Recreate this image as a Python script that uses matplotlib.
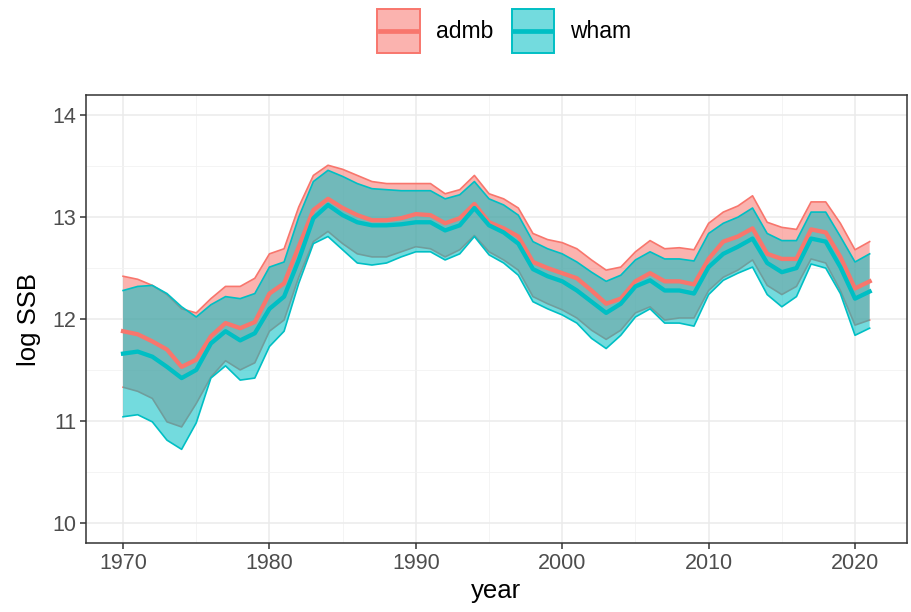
import numpy as np
import matplotlib
matplotlib.use("Agg")
import matplotlib.pyplot as plt
from matplotlib.patches import Rectangle
from matplotlib.lines import Line2D
from matplotlib.legend_handler import HandlerBase

plt.rcParams['font.family'] = ['Liberation Sans', 'DejaVu Sans']

years = np.arange(1970, 2022)

admb_est = [11.88, 11.85, 11.78, 11.70, 11.53, 11.60, 11.83, 11.96, 11.91, 11.97,
            12.25, 12.35, 12.71, 13.07, 13.18, 13.09, 13.02, 12.97, 12.97, 12.99,
            13.03, 13.02, 12.94, 12.99, 13.13, 12.95, 12.89, 12.81, 12.56, 12.50,
            12.45, 12.40, 12.28, 12.15, 12.20, 12.37, 12.45, 12.37, 12.37, 12.34,
            12.59, 12.76, 12.81, 12.89, 12.64, 12.59, 12.59, 12.88, 12.85, 12.61,
            12.30, 12.37]
admb_hi = [12.42, 12.39, 12.33, 12.24, 12.10, 12.06, 12.20, 12.32, 12.32, 12.40,
           12.64, 12.69, 13.10, 13.41, 13.51, 13.47, 13.41, 13.35, 13.33, 13.33,
           13.33, 13.33, 13.23, 13.27, 13.41, 13.23, 13.18, 13.09, 12.84, 12.78,
           12.75, 12.69, 12.58, 12.48, 12.51, 12.66, 12.77, 12.69, 12.70, 12.68,
           12.94, 13.05, 13.11, 13.21, 12.95, 12.90, 12.88, 13.15, 13.15, 12.94,
           12.68, 12.76]
admb_lo = [11.33, 11.29, 11.22, 10.99, 10.94, 11.17, 11.43, 11.59, 11.50, 11.57,
           11.88, 11.99, 12.41, 12.76, 12.86, 12.74, 12.64, 12.61, 12.61, 12.66,
           12.71, 12.69, 12.61, 12.68, 12.82, 12.66, 12.58, 12.48, 12.22, 12.15,
           12.09, 12.01, 11.89, 11.80, 11.89, 12.06, 12.12, 11.99, 12.01, 12.01,
           12.28, 12.41, 12.48, 12.58, 12.33, 12.24, 12.32, 12.59, 12.55, 12.28,
           11.94, 11.99]

wham_est = [11.66, 11.68, 11.63, 11.53, 11.42, 11.50, 11.76, 11.88, 11.79, 11.86,
            12.10, 12.22, 12.58, 12.99, 13.12, 13.02, 12.95, 12.92, 12.92, 12.93,
            12.95, 12.95, 12.87, 12.92, 13.09, 12.92, 12.85, 12.74, 12.49, 12.42,
            12.37, 12.28, 12.17, 12.06, 12.15, 12.32, 12.38, 12.28, 12.28, 12.25,
            12.51, 12.64, 12.71, 12.79, 12.55, 12.46, 12.50, 12.79, 12.76, 12.51,
            12.20, 12.27]
wham_hi = [12.28, 12.32, 12.33, 12.25, 12.12, 12.02, 12.14, 12.22, 12.20, 12.25,
           12.51, 12.56, 13.00, 13.35, 13.46, 13.40, 13.33, 13.28, 13.27, 13.26,
           13.26, 13.26, 13.18, 13.22, 13.35, 13.18, 13.12, 13.02, 12.76, 12.69,
           12.64, 12.56, 12.46, 12.37, 12.43, 12.58, 12.66, 12.59, 12.59, 12.57,
           12.84, 12.94, 13.00, 13.09, 12.84, 12.77, 12.77, 13.05, 13.05, 12.81,
           12.56, 12.64]
wham_lo = [11.04, 11.06, 10.99, 10.81, 10.72, 10.98, 11.42, 11.54, 11.40, 11.42,
           11.73, 11.88, 12.35, 12.74, 12.81, 12.68, 12.55, 12.53, 12.55, 12.61,
           12.66, 12.66, 12.58, 12.64, 12.81, 12.63, 12.55, 12.43, 12.17, 12.10,
           12.04, 11.96, 11.81, 11.71, 11.84, 12.02, 12.10, 11.96, 11.96, 11.93,
           12.24, 12.38, 12.45, 12.51, 12.24, 12.12, 12.22, 12.54, 12.50, 12.25,
           11.84, 11.91]

models = ["admb", "wham"]
colors = {"admb": "#F8766D", "wham": "#00BFC4"}
series = {
    "admb": (admb_est, admb_lo, admb_hi),
    "wham": (wham_est, wham_lo, wham_hi),
}
fill_alpha = 0.55


class RibbonKey(HandlerBase):
    # ggplot-like key: translucent square with outline and a line through the middle
    def create_artists(self, legend, orig_handle, xdescent, ydescent,
                       width, height, fontsize, trans):
        c = orig_handle.get_color()
        x0, y0 = -xdescent, -ydescent
        fill = Rectangle((x0, y0), width, height, facecolor=c, alpha=fill_alpha,
                         edgecolor="none", transform=trans)
        edge = Rectangle((x0, y0), width, height, facecolor="none", edgecolor=c,
                         lw=1.4, transform=trans)
        ym = y0 + height / 2
        line = Line2D([x0 + 2, x0 + width - 2], [ym, ym], color=c, lw=3.4,
                      transform=trans)
        return [fill, edge, line]


fig = plt.figure(figsize=(9.12, 6.12), dpi=100)
ax = fig.add_axes([0.094, 0.1127, 0.9005, 0.7321])

# ribbons first (with coloured edges), then the estimate lines on top
for m in models:
    est, lo, hi = series[m]
    ax.fill_between(years, lo, hi, facecolor=colors[m], alpha=fill_alpha,
                    linewidth=0, zorder=2)
    ax.plot(years, lo, color=colors[m], lw=1.2, zorder=2)
    ax.plot(years, hi, color=colors[m], lw=1.2, zorder=2)
for m in models:
    est = series[m][0]
    ax.plot(years, est, color=colors[m], lw=3.1, zorder=3,
            solid_joinstyle="round")

ax.set_xlim(1967.45, 2023.55)
ax.set_ylim(9.8, 14.2)
ax.set_xticks([1970, 1980, 1990, 2000, 2010, 2020])
ax.set_xticks([1975, 1985, 1995, 2005, 2015], minor=True)
ax.set_yticks([10, 11, 12, 13, 14])
ax.set_yticks([10.5, 11.5, 12.5, 13.5], minor=True)

ax.grid(which="major", color="#EBEBEB", lw=1.1, zorder=0)
ax.grid(which="minor", color="#F2F2F2", lw=0.6, zorder=0)
ax.set_axisbelow(True)
for s in ax.spines.values():
    s.set_color("#333333")
    s.set_linewidth(1.1)
ax.tick_params(which="major", length=4, width=1.1, color="#333333",
               labelsize=15.5, labelcolor="#4D4D4D", pad=3)
ax.tick_params(which="minor", length=0)

ax.set_xlabel("year", fontsize=18.5, color="black", labelpad=4)
ax.set_ylabel("log SSB", fontsize=18.5, color="black", labelpad=8)

handles = [Line2D([], [], color=colors[m]) for m in models]
fig.legend(handles, models, loc="upper center", bbox_to_anchor=(0.553, 1.012),
           ncol=2, frameon=False, fontsize=16.5, handlelength=1.85,
           handleheight=2.6, columnspacing=0.8, handletextpad=0.7,
           borderaxespad=0.3, handler_map={Line2D: RibbonKey()})

fig.savefig("out.png", dpi=100)
